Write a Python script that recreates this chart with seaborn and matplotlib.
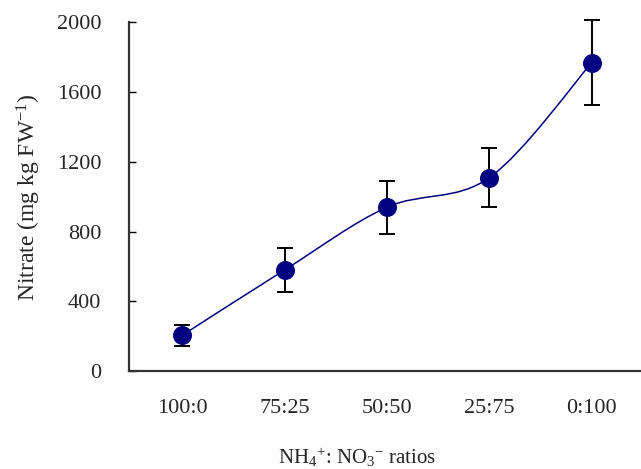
import numpy as np
import matplotlib
matplotlib.use("Agg")
import matplotlib.pyplot as plt
from matplotlib.path import Path
from matplotlib.patches import PathPatch
import seaborn as sns

# values
ratios = ["100:0", "75:25", "50:50", "25:75", "0:100"]
nitrate = [205, 580, 940, 1110, 1770]
nitrate_err = [60, 125, 152, 170, 245]
y_ticks = [0, 400, 800, 1200, 1600, 2000]

sns.set_theme(style="white")
plt.rcParams["font.family"] = ["Liberation Serif", "DejaVu Serif"]
plt.rcParams["mathtext.fontset"] = "custom"
plt.rcParams["mathtext.rm"] = "Liberation Serif"
plt.rcParams["mathtext.it"] = "Liberation Serif:italic"

navy = "#000080"

fig = plt.figure(figsize=(6.41, 4.69), dpi=100)
ax = fig.add_axes([129 / 641, 98 / 469, 1 - 129 / 641, 348.5 / 469])

xs = np.arange(len(ratios))

# smooth connecting line (Excel style Catmull-Rom drawn as bezier curves)
pts = np.column_stack([xs, nitrate]).astype(float)
verts = [tuple(pts[0])]
codes = [Path.MOVETO]
for i in range(len(pts) - 1):
    p0 = pts[i - 1] if i > 0 else pts[i]
    p1 = pts[i]
    p2 = pts[i + 1]
    p3 = pts[i + 2] if i + 2 < len(pts) else pts[i + 1]
    c1 = p1 + (p2 - p0) / 6
    c2 = p2 - (p3 - p1) / 6
    verts += [tuple(c1), tuple(c2), tuple(p2)]
    codes += [Path.CURVE4] * 3
ax.add_patch(PathPatch(Path(verts, codes), facecolor="none", edgecolor=navy, lw=1.1, zorder=2))

eb = ax.errorbar(xs, nitrate, yerr=nitrate_err, fmt="none", ecolor="black",
                 elinewidth=1.4, capsize=6, capthick=1.4, zorder=3)
for art in eb.lines[1] + eb.lines[2]:
    art.set_clip_on(False)
sns.scatterplot(x=xs, y=nitrate, ax=ax, color=navy, s=160, edgecolor=navy, zorder=4)

ax.set_xlim(-0.52, 4.48)
ax.set_ylim(0, 2000)
ax.set_xticks(xs)
ax.set_xticklabels(ratios)
ax.set_yticks(y_ticks)
ax.tick_params(axis="y", left=True, direction="in", length=5, width=1, color="black",
               labelsize=16, pad=20)
ax.tick_params(axis="x", length=0, labelsize=16, pad=20)

for side in ["top", "right"]:
    ax.spines[side].set_visible(False)
for side in ["left", "bottom"]:
    ax.spines[side].set_color("#333333")
    ax.spines[side].set_linewidth(1.6)

ax.set_ylabel(r"Nitrate (mg kg FW$^{-1}$)", fontsize=17)
ax.yaxis.set_label_coords(-0.168, 0.5)
ax.set_xlabel(r"NH$_4$$^{+}$: NO$_3$$^{-}$ ratios", fontsize=15)
ax.xaxis.set_label_coords((357 - 129) / (641 - 129), -0.215)

fig.savefig("out.png", dpi=100)
